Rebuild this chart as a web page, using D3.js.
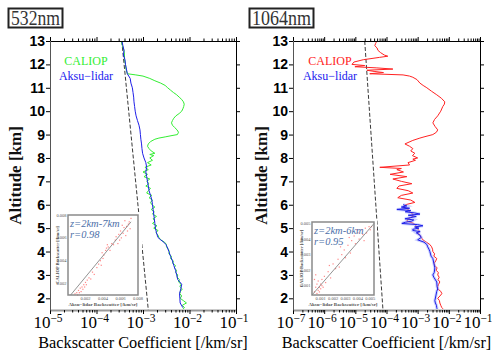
<!DOCTYPE html>
<html>
<head>
<meta charset="utf-8">
<script src="https://cdn.jsdelivr.net/npm/d3@7"></script>
<style>
  body { margin: 0; background: #fff; }
  svg { display: block; }
</style>
</head>
<body>
<div id="plot"></div>
<script>
// altitude [km], backscatter [/km/sr]
const altTicks = [2, 3, 4, 5, 6, 7, 8, 9, 10, 11, 12, 13];
const decades532 = [-5, -4, -3, -2, -1];
const decades1064 = [-7, -6, -5, -4, -3, -2, -1];

const molecular532 = [[13, 3.5e-4], [1.5, 1.3e-3]];
const molecular1064 = [[13, 2.0e-5], [1.5, 7.7e-5]];

const caliop532 = [
  [13.0,3.4e-4],[12.8,3.6e-4],[12.6,3.9e-4],[12.4,4.0e-4],[12.2,4.0e-4],[12.0,4.2e-4],
  [11.8,4.3e-4],[11.6,4.6e-4],[11.55,7.0e-4],[11.5,1.0e-3],[11.4,1.4e-3],[11.3,1.8e-3],
  [11.2,2.4e-3],[11.1,3.0e-3],[11.0,3.4e-3],[10.9,3.9e-3],[10.8,4.5e-3],[10.7,5.3e-3],
  [10.6,6.0e-3],[10.5,6.8e-3],[10.4,7.4e-3],[10.3,7.7e-3],[10.2,7.5e-3],[10.1,7.2e-3],
  [10.0,6.8e-3],[9.9,6.0e-3],[9.8,5.1e-3],[9.7,4.6e-3],[9.6,4.3e-3],[9.5,4.1e-3],
  [9.4,4.3e-3],[9.3,4.8e-3],[9.2,5.4e-3],[9.1,5.8e-3],[9.0,5.5e-3],[8.95,4.0e-3],
  [8.9,3.0e-3],[8.85,2.2e-3],[8.8,1.8e-3],[8.7,1.45e-3],[8.6,1.3e-3],[8.5,1.25e-3],
  [8.4,1.35e-3],[8.3,1.5e-3],[8.2,1.8e-3],[8.15,1.4e-3],[8.1,1.7e-3],[8.0,1.4e-3],
  [7.9,1.6e-3],[7.8,1.25e-3],[7.7,1.5e-3],[7.6,1.1e-3],[7.5,1.3e-3],[7.4,1.0e-3],
  [7.3,1.25e-3],[7.2,1.05e-3],[7.1,1.4e-3],[7.0,1.2e-3],[6.9,1.35e-3],[6.8,1.15e-3],
  [6.7,1.45e-3],[6.6,1.3e-3],[6.5,1.2e-3],[6.4,1.55e-3],[6.3,1.35e-3],[6.2,1.6e-3],
  [6.1,1.45e-3],[6.0,1.55e-3],[5.9,1.8e-3],[5.8,1.5e-3],[5.7,1.75e-3],[5.6,1.6e-3],
  [5.5,1.95e-3],[5.4,1.65e-3],[5.3,1.8e-3],[5.2,1.6e-3],[5.1,2.0e-3],[5.0,1.7e-3],
  [4.9,2.1e-3],[4.8,1.9e-3],[4.7,2.1e-3],[4.6,2.2e-3],[4.5,2.4e-3],[4.4,2.9e-3],
  [4.3,3.2e-3],[4.2,3.2e-3],[4.1,3.5e-3],[4.0,3.7e-3],[3.9,3.6e-3],[3.8,4.1e-3],
  [3.7,3.9e-3],[3.6,4.5e-3],[3.5,4.3e-3],[3.4,5.0e-3],[3.3,4.7e-3],[3.2,5.3e-3],
  [3.1,5.0e-3],[3.0,5.6e-3],[2.9,5.4e-3],[2.8,6.1e-3],[2.7,5.8e-3],[2.6,6.6e-3],
  [2.5,6.2e-3],[2.4,7.0e-3],[2.3,6.4e-3],[2.2,6.2e-3],[2.1,6.8e-3],[2.0,6.3e-3],
  [1.9,7.4e-3],[1.8,8.6e-3],[1.7,7.0e-3],[1.6,7.8e-3],[1.55,7.2e-3]
];

const aksu532 = [
  [13.0,3.5e-4],[12.8,3.7e-4],[12.6,3.9e-4],[12.4,3.8e-4],[12.2,4.1e-4],[12.0,4.2e-4],
  [11.8,4.4e-4],[11.6,4.6e-4],[11.4,5.3e-4],[11.2,5.5e-4],[11.0,5.9e-4],[10.8,6.1e-4],
  [10.6,6.3e-4],[10.4,6.4e-4],[10.2,6.6e-4],[10.0,6.8e-4],[9.8,7.1e-4],[9.6,7.6e-4],
  [9.4,8.2e-4],[9.2,8.6e-4],[9.0,8.8e-4],[8.8,9.0e-4],[8.6,9.3e-4],[8.4,9.5e-4],
  [8.2,9.8e-4],[8.0,1.05e-3],[7.8,1.15e-3],[7.6,1.2e-3],[7.4,1.15e-3],[7.2,1.2e-3],
  [7.0,1.25e-3],[6.8,1.3e-3],[6.6,1.35e-3],[6.4,1.45e-3],[6.2,1.55e-3],[6.0,1.6e-3],
  [5.8,1.65e-3],[5.6,1.7e-3],[5.4,1.75e-3],[5.2,1.8e-3],[5.0,1.85e-3],[4.8,1.95e-3],
  [4.6,2.1e-3],[4.5,2.4e-3],[4.4,2.8e-3],[4.3,3.1e-3],[4.2,3.3e-3],[4.0,3.6e-3],
  [3.8,3.9e-3],[3.6,4.3e-3],[3.4,4.6e-3],[3.2,5.0e-3],[3.0,5.3e-3],[2.8,5.6e-3],
  [2.6,6.8e-3],[2.4,6.5e-3],[2.2,6.1e-3],[2.0,6.2e-3],[1.8,6.3e-3],[1.6,7.2e-3]
];

const caliop1064 = [
  [13.0,4.9e-5],[12.9,4.5e-5],[12.8,4.2e-5],[12.7,5.0e-5],[12.6,5.3e-5],[12.5,6.5e-5],
  [12.4,8.5e-5],[12.35,1.1e-4],[12.3,6.0e-5],[12.2,1.8e-5],[12.1,9.0e-6],[12.0,7.8e-6],
  [11.95,2.0e-5],[11.9,9.7e-6],[11.85,4.9e-5],[11.8,1.6e-4],[11.75,2.35e-5],[11.7,4.0e-5],
  [11.65,8.0e-5],[11.6,2.9e-5],[11.55,3.4e-4],[11.5,5.5e-4],[11.45,7.0e-4],[11.35,9.5e-4],
  [11.2,1.18e-3],[11.1,1.5e-3],[11.0,1.97e-3],[10.85,2.8e-3],[10.7,4.1e-3],[10.55,5.8e-3],
  [10.4,7.4e-3],[10.3,7.2e-3],[10.2,6.4e-3],[10.0,5.5e-3],[9.8,4.4e-3],[9.65,3.5e-3],
  [9.5,3.07e-3],[9.35,3.6e-3],[9.2,4.4e-3],[9.1,4.0e-3],[9.0,3.07e-3],[8.9,1.6e-3],
  [8.85,1.18e-3],[8.75,7.0e-4],[8.6,3.9e-4],[8.5,5.5e-4],[8.4,7.0e-4],[8.3,6.0e-4],
  [8.2,8.1e-4],[8.1,6.8e-4],[8.0,1.0e-3],[7.95,7.0e-4],[7.9,8.5e-4],[7.8,4.9e-4],
  [7.7,5.5e-4],[7.6,6.1e-5],[7.55,3.0e-4],[7.5,2.15e-4],[7.4,3.5e-4],[7.3,1.3e-4],
  [7.2,4.5e-4],[7.1,1.6e-4],[7.0,3.0e-4],[6.9,6.5e-4],[6.8,2.5e-4],[6.7,2.15e-4],
  [6.6,5.0e-4],[6.5,7.0e-4],[6.4,3.0e-4],[6.3,2.3e-4],[6.2,6.0e-4],[6.1,8.1e-4],
  [6.0,4.0e-4],[5.9,3.4e-4],[5.8,5.0e-4],[5.7,5.6e-4],[5.6,7.0e-4],[5.5,7.0e-4],
  [5.4,5.0e-4],[5.3,4.5e-4],[5.2,7.5e-4],[5.1,9.0e-4],[5.0,9.4e-4],[4.9,1.1e-3],
  [4.8,1.0e-3],[4.7,1.2e-3],[4.6,1.3e-3],[4.5,1.47e-3],[4.4,1.9e-3],[4.3,2.46e-3],
  [4.2,2.8e-3],[4.1,3.0e-3],[4.0,3.07e-3],[3.9,3.5e-3],[3.8,3.3e-3],[3.7,4.1e-3],
  [3.6,3.8e-3],[3.5,3.4e-3],[3.4,3.56e-3],[3.3,4.2e-3],[3.2,3.9e-3],[3.1,4.6e-3],
  [3.0,4.4e-3],[2.9,4.9e-3],[2.8,4.5e-3],[2.7,5.15e-3],[2.6,4.7e-3],[2.5,4.4e-3],
  [2.4,4.4e-3],[2.3,5.5e-3],[2.2,5.97e-3],[2.1,5.2e-3],[2.0,4.4e-3],[1.9,5.0e-3],
  [1.8,5.15e-3],[1.7,5.5e-3],[1.6,5.97e-3],[1.55,6.5e-3]
];

const aksu1064 = [
  [6.0,3.4e-4],[5.95,4.5e-4],[5.9,3.0e-4],[5.85,5.5e-4],[5.8,2.15e-4],[5.75,6.0e-4],
  [5.7,4.0e-4],[5.65,8.0e-4],[5.6,1.18e-3],[5.55,5.0e-4],[5.5,9.0e-4],[5.45,6.0e-4],
  [5.4,3.9e-4],[5.35,7.5e-4],[5.3,6.5e-4],[5.25,4.0e-4],[5.2,3.1e-4],[5.15,1.0e-3],
  [5.1,1.47e-3],[5.05,8.0e-4],[5.0,1.1e-3],[4.95,7.0e-4],[4.9,7.0e-4],[4.85,1.2e-3],
  [4.8,9.0e-4],[4.7,1.18e-3],[4.6,1.3e-3],[4.5,1.0e-3],[4.4,1.6e-3],[4.3,1.97e-3],
  [4.2,2.1e-3],[4.1,2.3e-3],[4.0,2.46e-3],[3.8,2.7e-3],[3.7,3.07e-3],[3.5,3.3e-3],
  [3.3,3.56e-3],[3.1,3.4e-3],[3.0,3.07e-3],[2.9,3.3e-3],[2.7,4.1e-3],[2.5,4.2e-3],
  [2.4,4.4e-3],[2.3,4.1e-3],[2.1,3.83e-3],[1.9,3.56e-3],[1.8,3.7e-3],[1.7,4.0e-3],
  [1.6,4.1e-3],[1.55,4.2e-3]
];

// inset scatter: [aksu, caliop]
const scatter532 = [
  [0.0008,0.0011],[0.0010,0.0012],[0.0011,0.0010],[0.0012,0.0014],[0.0013,0.0012],
  [0.0014,0.0016],[0.0015,0.0013],[0.0016,0.0017],[0.0017,0.0015],[0.0018,0.0019],
  [0.0019,0.0017],[0.0020,0.0021],[0.0021,0.0019],[0.0022,0.0023],[0.0024,0.0025],
  [0.0026,0.0024],[0.0028,0.0030],[0.0030,0.0028],[0.0033,0.0034],[0.0035,0.0037],
  [0.0037,0.0040],[0.0038,0.0036],[0.0040,0.0042],[0.0041,0.0045],[0.0043,0.0049],
  [0.0044,0.0051],[0.0046,0.0052],[0.0048,0.0049],[0.0050,0.0055],[0.0052,0.0054],
  [0.0054,0.0058],[0.0055,0.0061],[0.0057,0.0055],[0.0058,0.0063],[0.0060,0.0066],
  [0.0061,0.0060],[0.0063,0.0064],[0.0064,0.0069],[0.0066,0.0062],[0.0067,0.0070],
  [0.0068,0.0066],[0.0070,0.0074],[0.0071,0.0068],[0.0072,0.0077],[0.0069,0.0072],
  [0.0065,0.0075],[0.0062,0.0071],[0.0059,0.0058],[0.0045,0.0054],[0.0039,0.0047]
];
const scatter1064 = [
  [0.0005,0.0006],[0.0006,0.0009],[0.0007,0.0005],[0.0007,0.0011],[0.0008,0.0007],
  [0.0008,0.0013],[0.0009,0.0009],[0.0009,0.0006],[0.0010,0.0011],[0.0010,0.0008],
  [0.0011,0.0010],[0.0011,0.0014],[0.0012,0.0009],[0.0013,0.0016],[0.0014,0.0012],
  [0.0005,0.0014],[0.0006,0.0017],[0.0016,0.0019],[0.0018,0.0015],[0.0020,0.0024],
  [0.0022,0.0021],[0.0024,0.0027],[0.0025,0.0022],[0.0027,0.0030],[0.0029,0.0033],
  [0.0030,0.0028],[0.0032,0.0036],[0.0034,0.0031],[0.0035,0.0039],[0.0037,0.0042],
  [0.0038,0.0037],[0.0040,0.0044],[0.0041,0.0040],[0.0043,0.0046],[0.0044,0.0043],
  [0.0046,0.0047],[0.0047,0.0044],[0.0049,0.0048],[0.0050,0.0046],[0.0051,0.0048],
  [0.0039,0.0046],[0.0033,0.0041],[0.0026,0.0035],[0.0045,0.0039],[0.0017,0.0023]
];
const fit532 = [[0.0003,0.0010],[0.0072,0.0074]];
const fit1064 = [[0.0003,0.0004],[0.0053,0.0050]];
const insetTicks532 = [0.002, 0.004, 0.006, 0.008];
const insetTicks1064 = [0.001, 0.002, 0.003, 0.004, 0.005];

const W = 492, H = 358;
const plotTop = 41, plotBottom = 310;
const serif = "'Liberation Serif','Times New Roman',serif";
const sans = "'Liberation Sans',Arial,sans-serif";

const svg = d3.select("#plot").append("svg")
    .attr("width", W).attr("height", H);

const y = d3.scaleLinear().domain([1.5, 13]).range([plotBottom, plotTop]);

function drawPanel(p) {
  const x = d3.scaleLog()
      .domain([Math.pow(10, p.decades[0]), Math.pow(10, p.decades[p.decades.length - 1])])
      .range([p.left, p.right]);
  const g = svg.append("g");

  const majors = p.decades.map(e => Math.pow(10, e));
  const minors = [];
  p.decades.slice(0, -1).forEach(e => {
    for (let k = 2; k <= 9; k++) minors.push(k * Math.pow(10, e));
  });

  const clipId = "clip" + p.id;
  svg.append("clipPath").attr("id", clipId)
    .append("rect").attr("x", p.left).attr("y", plotTop)
    .attr("width", p.right - p.left).attr("height", plotBottom - plotTop);

  const line = d3.line().x(d => x(d[1])).y(d => y(d[0]));
  const lines = g.append("g").attr("clip-path", "url(#" + clipId + ")");

  lines.append("path").datum(p.molecular)
    .attr("d", line).attr("fill", "none")
    .attr("stroke", "#222").attr("stroke-width", 0.9)
    .attr("stroke-dasharray", "4,2");

  lines.append("path").datum(p.caliop)
    .attr("d", line).attr("fill", "none")
    .attr("stroke", p.caliopColor).attr("stroke-width", 1);

  if (p.halo) {
    lines.append("path").datum(p.aksu)
      .attr("d", line).attr("fill", "none")
      .attr("stroke", "#9aa6ff").attr("stroke-width", 3).attr("stroke-opacity", 0.5);
  }
  lines.append("path").datum(p.aksu)
    .attr("d", line).attr("fill", "none")
    .attr("stroke", "#1f1fe8").attr("stroke-width", 1);

  // axes (ticks outward)
  const axTop = g.append("g").attr("transform", "translate(0," + plotTop + ")");
  axTop.call(d3.axisTop(x).tickValues(minors).tickSize(2.5).tickFormat("").tickSizeOuter(0));
  axTop.append("g").call(d3.axisTop(x).tickValues(majors).tickSize(4).tickFormat("").tickSizeOuter(0))
    .call(g2 => g2.select(".domain").remove());

  const axBot = g.append("g").attr("transform", "translate(0," + plotBottom + ")");
  axBot.call(d3.axisBottom(x).tickValues(minors).tickSize(2.5).tickFormat("").tickSizeOuter(0));
  axBot.append("g").call(d3.axisBottom(x).tickValues(majors).tickSize(4).tickFormat("").tickSizeOuter(0))
    .call(g2 => g2.select(".domain").remove());
  axBot.select(".domain").attr("stroke", "#999").attr("stroke-width", 2);

  const axL = g.append("g").attr("transform", "translate(" + p.left + ",0)");
  axL.call(d3.axisLeft(y).tickValues(altTicks).tickSize(4).tickFormat("").tickSizeOuter(0));
  axL.select(".domain").attr("stroke", "#555");

  const axR = g.append("g").attr("transform", "translate(" + p.right + ",0)");
  axR.call(d3.axisRight(y).tickValues(altTicks).tickSize(4).tickFormat("").tickSizeOuter(0));

  // altitude tick labels
  g.selectAll(".altlab").data(altTicks).enter().append("text")
    .attr("x", p.left - 5).attr("y", d => y(d)).attr("dy", "0.36em")
    .attr("text-anchor", "end")
    .style("font-family", sans).style("font-weight", "bold").style("font-size", "14px")
    .text(d => d);

  // decade labels
  const dl = g.selectAll(".declab").data(p.decades).enter().append("text")
    .attr("x", d => x(Math.pow(10, d)) - 2).attr("y", 328)
    .attr("text-anchor", "middle")
    .style("font-family", serif).style("font-size", "17px").style("fill", "#000");
  dl.append("tspan").text("10");
  dl.append("tspan").attr("dy", -6).style("font-size", "11.5px").text(d => "\u2212" + Math.abs(d));

  g.append("text")
    .attr("x", (p.left + p.right) / 2).attr("y", 348)
    .attr("text-anchor", "middle")
    .style("font-family", serif).style("font-size", "16.3px").style("fill", "#000")
    .text("Backscatter Coefficient [/km/sr]");

  g.append("text")
    .attr("transform", "translate(" + p.ylabX + "," + ((plotTop + plotBottom) / 2) + ") rotate(-90)")
    .attr("text-anchor", "middle")
    .style("font-family", serif).style("font-weight", "bold").style("font-size", "17px")
    .style("fill", "#111")
    .text("Altitude [km]");

  // legend
  g.append("text").attr("x", p.legendX).attr("y", 65).attr("text-anchor", "middle")
    .style("font-family", serif).style("font-size", "12px").style("fill", p.caliopColor)
    .text("CALIOP");
  g.append("text").attr("x", p.legendX).attr("y", 80).attr("text-anchor", "middle")
    .style("font-family", serif).style("font-size", "12px").style("fill", "#2020ee")
    .text("Aksu\u2212lidar");

  // title box
  g.append("rect").attr("x", p.boxX).attr("y", 8.5).attr("width", p.boxW).attr("height", 19)
    .attr("fill", "#fff").attr("stroke", "#222").attr("stroke-width", 2);
  g.append("text").attr("x", p.boxX + p.boxW / 2).attr("y", 25)
    .attr("text-anchor", "middle")
    .attr("textLength", p.boxW - 5).attr("lengthAdjust", "spacingAndGlyphs")
    .style("font-family", serif).style("font-size", "20px").style("fill", "#333")
    .text(p.title);

  drawInset(p.inset);
}

function drawInset(s) {
  const g = svg.append("g");
  g.append("rect").attr("x", s.outer[0]).attr("y", s.outer[1])
    .attr("width", s.outer[2]).attr("height", s.outer[3]).attr("fill", "#fff");

  const ix = d3.scaleLinear().domain(s.xDomain).range([s.x0, s.x1]);
  const iy = d3.scaleLinear().domain(s.yDomain).range([s.y1, s.y0]);

  g.selectAll(".pt").data(s.points).enter().append("rect")
    .attr("x", d => ix(d[0]) - 0.6).attr("y", d => iy(d[1]) - 0.6)
    .attr("width", 1.2).attr("height", 1.2)
    .attr("fill", "#ff5555").attr("fill-opacity", 0.7);

  g.append("line")
    .attr("x1", ix(s.fit[0][0])).attr("y1", iy(s.fit[0][1]))
    .attr("x2", ix(s.fit[1][0])).attr("y2", iy(s.fit[1][1]))
    .attr("stroke", "#777").attr("stroke-width", 0.8);

  g.append("rect").attr("x", s.x0).attr("y", s.y0)
    .attr("width", s.x1 - s.x0).attr("height", s.y1 - s.y0)
    .attr("fill", "none").attr("stroke", "#8a8a8a").attr("stroke-width", 1.5);

  g.selectAll(".xt").data(s.ticks).enter().append("text")
    .attr("x", d => ix(d)).attr("y", s.y1 + 5)
    .attr("text-anchor", "middle")
    .style("font-family", serif).style("font-size", "4.5px").style("fill", "#555")
    .text(d => d.toFixed(3));
  g.selectAll(".yt").data(s.ticks.filter(d => d >= s.yDomain[0] && d <= s.yDomain[1]))
    .enter().append("text")
    .attr("x", s.x0 - 1.5).attr("y", d => iy(d) + 1.5)
    .attr("text-anchor", "end")
    .style("font-family", serif).style("font-size", "4.5px").style("fill", "#555")
    .text(d => d.toFixed(3));

  g.append("text").attr("x", (s.x0 + s.x1) / 2).attr("y", s.y1 + 11)
    .attr("text-anchor", "middle")
    .style("font-family", serif).style("font-weight", "bold").style("font-size", "5px")
    .style("fill", "#555")
    .text("Aksu\u2212lidar Backscatter [/km/sr]");
  g.append("text")
    .attr("transform", "translate(" + (s.x0 - 9) + "," + ((s.y0 + s.y1) / 2) + ") rotate(-90)")
    .attr("text-anchor", "middle")
    .style("font-family", serif).style("font-weight", "bold").style("font-size", "4.5px")
    .style("fill", "#555")
    .text("CALIOP Backscatter [/km/sr]");

  g.append("text").attr("x", s.x0 + 2).attr("y", s.y0 + 12)
    .style("font-family", serif).style("font-style", "italic").style("font-size", "10.5px")
    .style("fill", "#4d6fa8").text(s.zText);
  g.append("text").attr("x", s.x0 + 2).attr("y", s.y0 + 23)
    .style("font-family", serif).style("font-style", "italic").style("font-size", "10.5px")
    .style("fill", "#4d6fa8").text(s.rText);
}

drawPanel({
  id: "a", left: 50, right: 236, decades: decades532,
  molecular: molecular532, caliop: caliop532, aksu: aksu532,
  caliopColor: "#33ee33", halo: false,
  ylabX: 21, legendX: 86, boxX: 8.5, boxW: 54, title: "532nm",
  inset: {
    outer: [54, 212, 88, 97], x0: 68, x1: 138, y0: 215, y1: 295,
    xDomain: [0, 0.008], yDomain: [0.001, 0.008],
    points: scatter532, fit: fit532, ticks: insetTicks532,
    zText: "z=2km-7km", rText: "r=0.98"
  }
});

drawPanel({
  id: "b", left: 293, right: 480, decades: decades1064,
  molecular: molecular1064, caliop: caliop1064, aksu: aksu1064,
  caliopColor: "#ff2222", halo: true,
  ylabX: 267, legendX: 330, boxX: 249.5, boxW: 64, title: "1064nm",
  inset: {
    outer: [299, 219, 78, 90], x0: 312, x1: 374, y0: 222, y1: 295,
    xDomain: [0.0003, 0.0053], yDomain: [0.0004, 0.0051],
    points: scatter1064, fit: fit1064, ticks: insetTicks1064,
    zText: "z=2km-6km", rText: "r=0.95"
  }
});
</script>
</body>
</html>
